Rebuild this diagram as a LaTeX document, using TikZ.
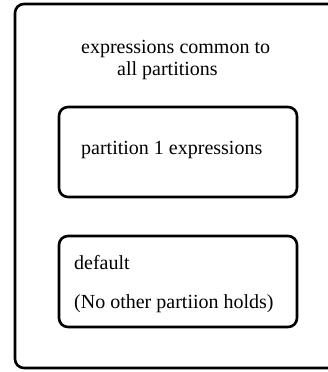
\documentclass[tikz,border=0pt]{standalone}
\usepackage{fontspec}
\setmainfont{Liberation Serif}
\begin{document}
\begin{tikzpicture}[x=1pt,y=1pt,
  frame/.style={draw=black, line width=2.6pt, rounded corners=9pt,
    inner sep=0pt, outer sep=0pt},
  txt/.style={anchor=base west, inner sep=0pt,
    font=\rmfamily\fontsize{20}{24}\selectfont}]
  \useasboundingbox (0,0) rectangle (328,-372);
  % outer region (runs past the right edge)
  \node[frame, minimum width=330, minimum height=364] (outer) at (180,-186) {};
  \node[txt] (common1) at (81,-53) {expressions common to};
  \node[txt] (common2) at (117,-75) {all partitions};
  % partition boxes
  \node[frame, minimum width=238, minimum height=90] (part1) at (178,-152) {};
  \node[txt] (p1text) at (81,-154) {partition 1 expressions};
  \node[frame, minimum width=238, minimum height=91] (dflt) at (178,-281.5) {};
  \node[txt] (dtext1) at (74,-269) {default};
  \node[txt] (dtext2) at (74,-308) {(No other partiion holds)};
\end{tikzpicture}
\end{document}
